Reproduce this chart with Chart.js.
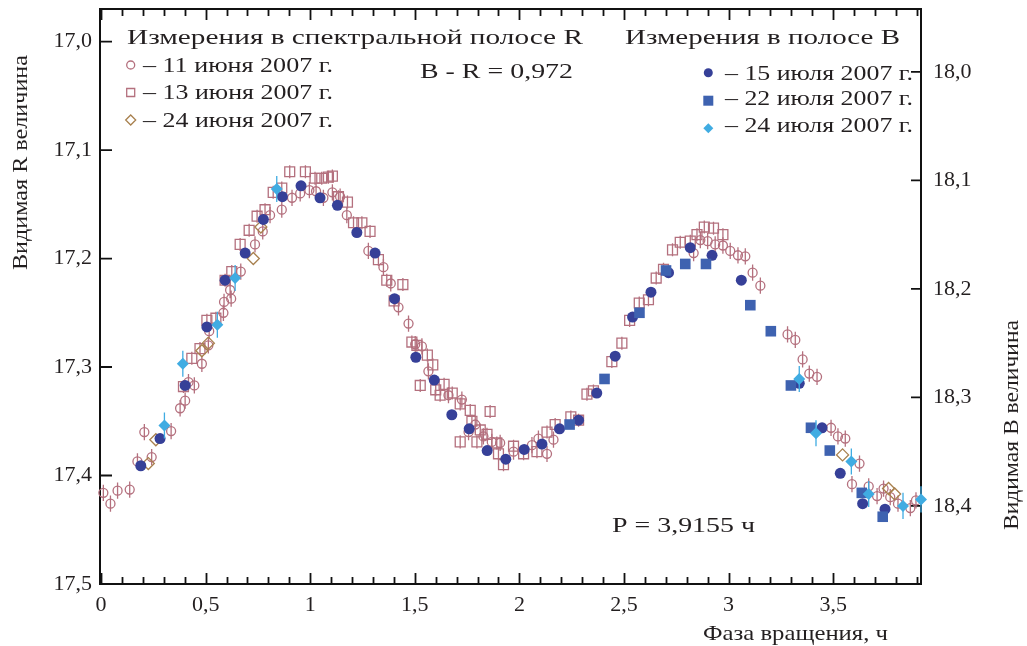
<!DOCTYPE html>
<html>
<head>
<meta charset="utf-8">
<script src="https://cdn.jsdelivr.net/npm/chart.js@4.4.1/dist/chart.umd.min.js"></script>
<style>
  html, body { margin: 0; padding: 0; background: #fff; }
</style>
</head>
<body>
<canvas id="chart" width="1027" height="646"></canvas>
<script>
// phase (h) and magnitude
const r11Phase = [0.011,0.045,0.079,0.137,0.174,0.207,0.242,0.335,0.378,0.402,0.418,0.446,0.482,0.513,0.517,0.585,0.588,0.617,0.622,0.668,0.736,0.773,0.808,0.864,0.913,0.952,0.996,1.028,1.063,1.106,1.143,1.175,1.278,1.350,1.385,1.422,1.470,1.502,1.534,1.565,1.661,1.725,1.757,1.789,1.828,1.868,1.908,1.972,2.060,2.091,2.132,2.163,2.833,2.865,2.900,2.936,2.973,3.008,3.045,3.080,3.115,3.152,3.282,3.319,3.354,3.386,3.423,3.490,3.523,3.558,3.590,3.626,3.670,3.710,3.741,3.773,3.810,3.869,3.896];
const r11Mag = [17.416,17.426,17.414,17.413,17.387,17.360,17.383,17.359,17.338,17.331,17.314,17.317,17.297,17.280,17.267,17.250,17.240,17.229,17.237,17.212,17.187,17.175,17.160,17.155,17.144,17.140,17.137,17.138,17.144,17.139,17.143,17.160,17.193,17.208,17.223,17.245,17.260,17.279,17.281,17.304,17.326,17.330,17.360,17.353,17.364,17.369,17.370,17.378,17.372,17.366,17.380,17.367,17.195,17.183,17.184,17.187,17.188,17.193,17.197,17.198,17.213,17.225,17.270,17.275,17.293,17.306,17.309,17.356,17.364,17.366,17.408,17.389,17.410,17.419,17.412,17.420,17.426,17.430,17.423];

const r13Phase = [0.394,0.434,0.473,0.506,0.549,0.593,0.625,0.665,0.708,0.746,0.784,0.823,0.864,0.902,0.977,1.023,1.055,1.087,1.106,1.135,1.178,1.207,1.247,1.286,1.326,1.366,1.401,1.443,1.486,1.510,1.526,1.560,1.586,1.600,1.621,1.640,1.679,1.717,1.717,1.765,1.773,1.797,1.813,1.845,1.860,1.892,1.900,1.924,1.972,2.020,2.084,2.132,2.171,2.246,2.283,2.323,2.354,2.442,2.490,2.527,2.573,2.617,2.654,2.689,2.732,2.769,2.817,2.849,2.884,2.928,2.973];
const r13Mag = [17.318,17.292,17.283,17.257,17.255,17.220,17.212,17.187,17.174,17.161,17.155,17.139,17.135,17.120,17.120,17.126,17.126,17.125,17.124,17.143,17.148,17.167,17.167,17.175,17.201,17.220,17.239,17.224,17.277,17.280,17.317,17.289,17.298,17.321,17.326,17.316,17.324,17.334,17.369,17.340,17.350,17.369,17.358,17.362,17.341,17.370,17.380,17.390,17.373,17.380,17.378,17.360,17.353,17.346,17.349,17.325,17.322,17.295,17.278,17.257,17.241,17.238,17.218,17.210,17.192,17.185,17.184,17.178,17.171,17.172,17.178];

const r24Phase = [0.226,0.262,0.482,0.513,0.728,0.764,3.545,3.765,3.794];
const r24Mag = [17.389,17.367,17.285,17.278,17.200,17.171,17.381,17.412,17.417];

const b15Phase = [0.190,0.282,0.402,0.506,0.593,0.689,0.776,0.867,0.956,1.047,1.130,1.223,1.310,1.403,1.505,1.593,1.677,1.760,1.846,1.935,2.023,2.108,2.192,2.283,2.370,2.458,2.541,2.629,2.713,2.817,2.921,3.061,3.338,3.447,3.534,3.641,3.748];
const b15Mag = [18.363,18.338,18.289,18.235,18.192,18.167,18.136,18.115,18.105,18.116,18.123,18.148,18.167,18.209,18.263,18.284,18.316,18.329,18.349,18.357,18.348,18.343,18.329,18.321,18.296,18.262,18.226,18.203,18.185,18.162,18.169,18.192,18.287,18.328,18.370,18.398,18.403];

const b22Phase = [2.240,2.407,2.574,2.701,2.793,2.892,3.104,3.202,3.298,3.394,3.484,3.637,3.737];
const b22Mag = [18.325,18.283,18.222,18.183,18.177,18.177,18.215,18.239,18.289,18.328,18.349,18.388,18.410];

const b24Phase = [0.303,0.391,0.556,0.641,0.840,3.338,3.418,3.587,3.670,3.834,3.920];
const b24Mag = [18.326,18.269,18.233,18.190,18.108,18.283,18.333,18.359,18.389,18.400,18.394];

const leftTicks = [17.0, 17.1, 17.2, 17.3, 17.4, 17.5];
const rightTicks = [18.0, 18.1, 18.2, 18.3, 18.4];
const phaseTicks = [0, 0.5, 1, 1.5, 2, 2.5, 3, 3.5];
const colorIndex = 0.972;   // B - R
const rMin = 16.97, rMax = 17.5;

const FONT = '"Liberation Serif", "Times New Roman", serif';
const TEXT = '#231f20';
const colors = {
  r11: 'rgb(180,112,126)',
  r13: 'rgb(180,112,126)',
  r24: 'rgb(168,128,78)',
  b15: 'rgb(54,64,152)',
  b22: 'rgb(62,98,176)',
  b24: 'rgb(64,172,226)'
};

function pts(xs, ys) { return xs.map((x, i) => ({ x, y: ys[i] })); }
function comma(v, digits) { return v.toFixed(digits).replace('.', ','); }

// vertical error bars, drawn right before their own markers
const errorBars = {
  id: 'errorBars',
  beforeDatasetDraw(chart, args) {
    const ds = chart.data.datasets[args.index];
    if (!ds.errBar) return;
    const yScale = chart.scales[ds.yAxisID];
    const ctx = chart.ctx;
    ctx.save();
    ctx.strokeStyle = ds.borderColor;
    ctx.lineWidth = 1.3;
    ctx.beginPath();
    ds.data.forEach((p, i) => {
      const el = args.meta.data[i];
      ctx.moveTo(el.x, yScale.getPixelForValue(p.y - ds.errBar));
      ctx.lineTo(el.x, yScale.getPixelForValue(p.y + ds.errBar));
    });
    ctx.stroke();
    ctx.restore();
  }
};

// frame with inward ticks on all four sides
const frame = {
  id: 'frame',
  beforeDatasetsDraw(chart) {
    const { ctx, chartArea: a, scales } = chart;
    ctx.save();
    ctx.strokeStyle = '#111';
    ctx.lineWidth = 2;
    ctx.strokeRect(a.left, a.top, a.right - a.left, a.bottom - a.top);
    ctx.lineWidth = 1.8;
    ctx.beginPath();
    for (let k = 0; k <= 39; k++) {
      const x = Math.round(scales.x.getPixelForValue(k / 10)) + 0.5;
      const len = k % 5 === 0 ? 11 : 7;
      ctx.moveTo(x, a.bottom); ctx.lineTo(x, a.bottom - len);
      ctx.moveTo(x, a.top); ctx.lineTo(x, a.top + len);
    }
    leftTicks.forEach(v => {
      const y = scales.y.getPixelForValue(v);
      ctx.moveTo(a.left, y); ctx.lineTo(a.left + 12, y);
    });
    rightTicks.forEach(v => {
      const y = scales.y2.getPixelForValue(v);
      ctx.moveTo(a.right, y); ctx.lineTo(a.right - 10, y);
    });
    ctx.stroke();
    ctx.restore();
  }
};

function marker(ctx, style, x, y, r, color, filled) {
  ctx.beginPath();
  if (style === 'circle') ctx.arc(x, y, r, 0, Math.PI * 2);
  else if (style === 'rect') ctx.rect(x - r, y - r, 2 * r, 2 * r);
  else { ctx.moveTo(x - r, y); ctx.lineTo(x, y - r); ctx.lineTo(x + r, y); ctx.lineTo(x, y + r); ctx.closePath(); }
  if (filled) { ctx.fillStyle = color; ctx.fill(); }
  else { ctx.strokeStyle = color; ctx.lineWidth = 1.3; ctx.stroke(); }
}

// the printed typeface is wider than Liberation Serif: stretch each line to its width
function wideText(ctx, text, x, y, width, rotate) {
  const w = ctx.measureText(text).width;
  ctx.save();
  ctx.translate(x, y);
  if (rotate) ctx.rotate(-Math.PI / 2);
  ctx.scale(width / w, 1);
  ctx.fillStyle = TEXT;
  ctx.fillText(text, 0, 0);
  ctx.restore();
}

const annotations = {
  id: 'annotations',
  afterDraw(chart) {
    const ctx = chart.ctx;
    ctx.save();
    ctx.textBaseline = 'alphabetic';
    ctx.textAlign = 'left';
    ctx.font = '22px ' + FONT;
    wideText(ctx, 'Измерения в спектральной полосе R', 127, 44, 456);
    wideText(ctx, 'Измерения в полосе B', 625, 44, 275);
    wideText(ctx, 'B - R = 0,972', 420, 78, 153);
    wideText(ctx, 'P = 3,9155 ч', 612, 532, 143);

    const leftItems = ['– 11 июня 2007 г.', '– 13 июня 2007 г.', '– 24 июня 2007 г.'];
    const leftBase = [72, 99, 126.5];
    leftItems.forEach((t, i) => wideText(ctx, t, 143, leftBase[i], 190));
    marker(ctx, 'circle', 130.7, 65, 4, colors.r11, false);
    marker(ctx, 'rect', 130.7, 92.5, 4, colors.r13, false);
    marker(ctx, 'diamond', 130.7, 120, 5, colors.r24, false);

    const rightItems = ['– 15 июля 2007 г.', '– 22 июля 2007 г.', '– 24 июля 2007 г.'];
    const rightBase = [80, 105, 131.5];
    rightItems.forEach((t, i) => wideText(ctx, t, 725, rightBase[i], 188));
    marker(ctx, 'circle', 708.3, 72.7, 4.5, colors.b15, true);
    marker(ctx, 'rect', 708.3, 100.7, 5, colors.b22, true);
    marker(ctx, 'diamond', 708.3, 128.3, 5, colors.b24, true);

    ctx.font = '21px ' + FONT;
    wideText(ctx, 'Фаза вращения, ч', 703, 640, 185);
    wideText(ctx, 'Видимая R величина', 26.5, 270, 215, true);
    wideText(ctx, 'Видимая B величина', 1018.3, 530, 210, true);
    ctx.restore();
  }
};

function series(label, xs, ys, axis, style, radius, color, filled, err, order) {
  return {
    label,
    data: pts(xs, ys),
    yAxisID: axis,
    pointStyle: style,
    pointRadius: radius,
    pointHoverRadius: radius,
    pointBorderWidth: filled ? 0 : 1.3,
    borderColor: color,
    pointBorderColor: color,
    pointBackgroundColor: filled ? color : 'rgba(0,0,0,0)',
    errBar: err,
    clip: false,
    order
  };
}

const tickFont = { family: FONT, size: 22 };
const noPadY = s => { s.paddingTop = 0; s.paddingBottom = 0; };

new Chart(document.getElementById('chart'), {
  type: 'scatter',
  data: {
    datasets: [
      series('11 июня 2007 г.', r11Phase, r11Mag, 'y', 'circle', 4.5, colors.r11, false, 0.0075, 6),
      series('13 июня 2007 г.', r13Phase, r13Mag, 'y', 'rect', 7, colors.r13, false, 0.006, 5),
      series('24 июня 2007 г.', r24Phase, r24Mag, 'y', 'rectRot', 6, colors.r24, false, 0, 4),
      series('15 июля 2007 г.', b15Phase, b15Mag, 'y2', 'circle', 5.5, colors.b15, true, 0, 3),
      series('22 июля 2007 г.', b22Phase, b22Mag, 'y2', 'rect', 7.5, colors.b22, true, 0.004, 2),
      series('24 июля 2007 г.', b24Phase, b24Mag, 'y2', 'rectRot', 6, colors.b24, true, 0.012, 1)
    ]
  },
  options: {
    responsive: false,
    animation: false,
    events: [],
    layout: { padding: { top: 9, left: 0, right: 0, bottom: 0 } },
    plugins: { legend: { display: false }, tooltip: { enabled: false } },
    scales: {
      x: {
        type: 'linear', min: -0.005, max: 3.92,
        grid: { display: false, drawTicks: false },
        border: { display: false },
        afterBuildTicks: s => { s.ticks = phaseTicks.map(v => ({ value: v })); },
        afterFit: s => { s.height = 62; s.paddingLeft = 0; s.paddingRight = 0; },
        ticks: {
          color: TEXT, font: tickFont, padding: 8, maxRotation: 0, autoSkip: false,
          callback: v => Number.isInteger(v) ? String(v) : comma(v, 1)
        }
      },
      y: {
        position: 'left', reverse: true, min: rMin, max: rMax,
        grid: { display: false, drawTicks: false },
        border: { display: false },
        afterBuildTicks: s => { s.ticks = leftTicks.map(v => ({ value: v })); },
        afterFit: s => { s.width = 100; noPadY(s); },
        ticks: { color: TEXT, font: tickFont, padding: 8, callback: v => comma(v, 1) }
      },
      y2: {
        position: 'right', reverse: true, min: rMin + colorIndex, max: rMax + colorIndex,
        grid: { display: false, drawTicks: false },
        border: { display: false },
        afterBuildTicks: s => { s.ticks = rightTicks.map(v => ({ value: v })); },
        afterFit: s => { s.width = 106; noPadY(s); },
        ticks: { color: TEXT, font: tickFont, padding: 12, callback: v => comma(v, 1) }
      }
    }
  },
  plugins: [frame, errorBars, annotations]
});
</script>
</body>
</html>
